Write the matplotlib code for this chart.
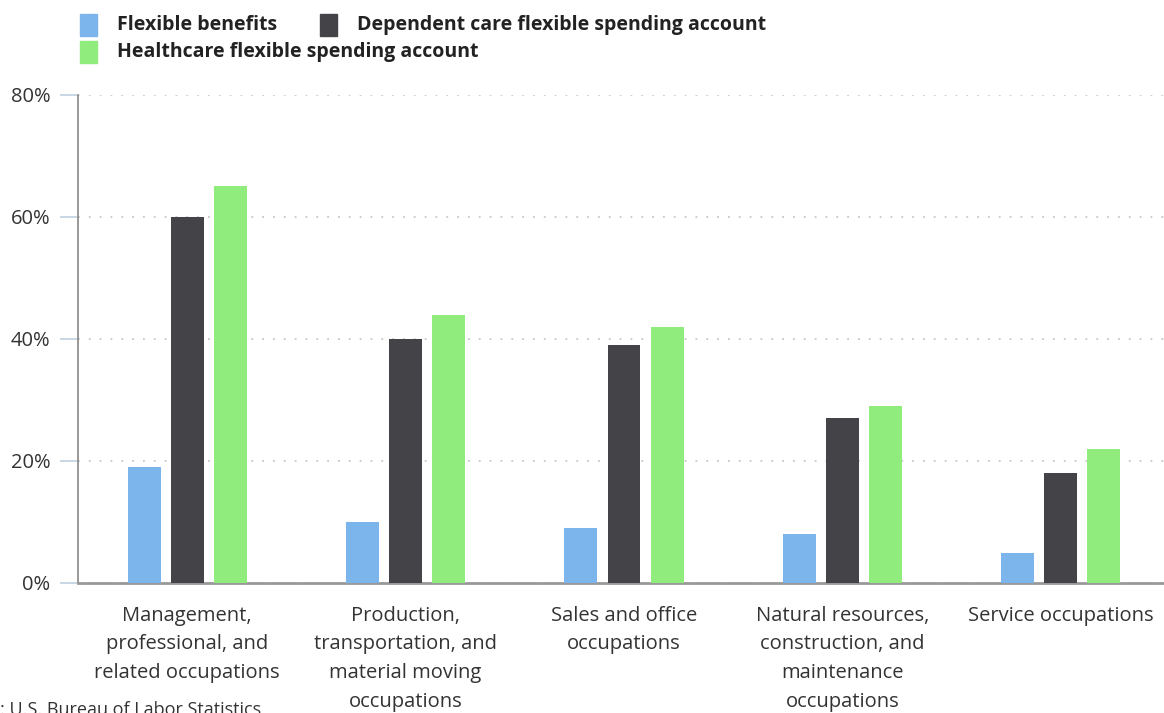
import numpy as np
import matplotlib.pyplot as plt
from matplotlib.patches import Rectangle

plt.rcParams["font.family"] = ["Open Sans", "DejaVu Sans"]

categories = [
    "Management,\nprofessional, and\nrelated occupations",
    "Production,\ntransportation, and\nmaterial moving\noccupations",
    "Sales and office\noccupations",
    "Natural resources,\nconstruction, and\nmaintenance\noccupations",
    "Service occupations",
]
series_names = [
    "Flexible benefits",
    "Dependent care flexible spending account",
    "Healthcare flexible spending account",
]
flexible_benefits = [19, 10, 9, 8, 5]
dependent_care_fsa = [60, 40, 39, 27, 18]
healthcare_fsa = [65, 44, 42, 29, 22]
y_ticks = [0, 20, 40, 60, 80]

colors = ["#7cb5ec", "#434348", "#90ed7d"]
values = [flexible_benefits, dependent_care_fsa, healthcare_fsa]

fig = plt.figure(figsize=(11.64, 7.13), dpi=100)
ax = fig.add_axes([78 / 1164, 130 / 713, 1092 / 1164, 488 / 713])

x = np.arange(len(categories))
width = 0.151
offsets = [-0.197, 0, 0.197]
for vals, off, col in zip(values, offsets, colors):
    ax.bar(x + off, vals, width, color=col, zorder=3)

ax.set_xlim(-0.5, 4.5)
ax.set_ylim(0, 80)
ax.set_yticks(y_ticks)
ax.set_yticklabels([f"{v}%" for v in y_ticks], fontsize=14.5, color="#333333")
ax.tick_params(axis="y", length=13, width=1.2, color="#c0d0e0", pad=7)
ax.set_xticks(x)
ax.set_xticklabels(categories, fontsize=14.5, color="#333333", linespacing=1.57, va="top")
ax.tick_params(axis="x", length=0, pad=16.5)

ax.grid(axis="y", linestyle=(0, (1, 5)), color="#c8c8c8", linewidth=1.3, zorder=0)
for side in ["top", "right"]:
    ax.spines[side].set_visible(False)
ax.spines["left"].set_color("#888888")
ax.spines["left"].set_linewidth(1.2)
ax.spines["bottom"].set_color("#999999")
ax.spines["bottom"].set_linewidth(2)

# legend drawn manually in figure pixel coordinates
legend_pos = [(80, 25), (320, 25), (80, 52)]
for (lx, ly), name, col in zip(legend_pos, series_names, colors):
    fig.patches.append(Rectangle((lx / 1164, 1 - (ly + 11) / 713), 17 / 1164, 22 / 713,
                                 transform=fig.transFigure, color=col))
    fig.text((lx + 37) / 1164, 1 - ly / 713, name, fontsize=14, fontweight="bold",
             color="#222222", va="center", ha="left")

fig.text(0.0, 1 - 701 / 713, ": U.S. Bureau of Labor Statistics", fontsize=13,
         color="#333333", va="top", ha="left")

fig.savefig("out.png", dpi=100)
